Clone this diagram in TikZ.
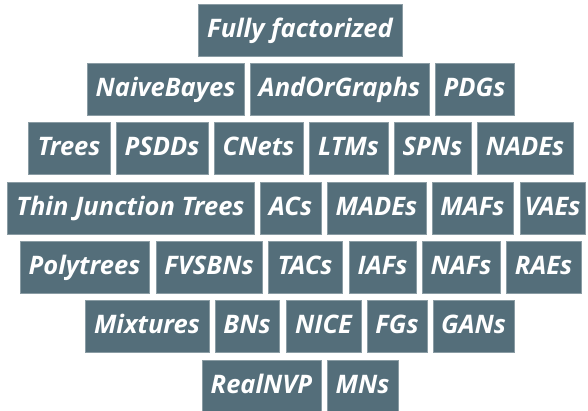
\documentclass[tikz,border=0pt]{standalone}
\usepackage{fontspec}
\setmainfont{Open Sans}
\definecolor{boxfill}{HTML}{546E7A}
\definecolor{boxedge}{HTML}{8A9CA4}
\tikzset{
  box/.style={fill=boxfill, draw=boxedge, line width=0.4pt, inner sep=0pt,
    text height=19pt, text depth=5pt,
    text=white, font=\fontsize{25.5}{26}\selectfont\bfseries\itshape, anchor=center}
}
\newcommand\mybox[6]{%
  \node[box, minimum width={(#3-#2)*1pt}, minimum height={(#5-#4)*1pt}]
    (#1) at ({(#2+#3)/2},{(#4+#5)/2}) {#6};}
\begin{document}
\begin{tikzpicture}[x=1pt,y=-1pt]
\useasboundingbox (0,0) rectangle (588,410);
% row 1
\mybox{ff}{198}{402}{4}{56}{Fully factorized}
% row 2
\mybox{nb}{87}{244}{63}{115}{NaiveBayes}
\mybox{aog}{250}{429}{63}{115}{AndOrGraphs}
\mybox{pdg}{435}{514}{63}{115}{PDGs}
% row 3
\mybox{trees}{28}{110}{122}{174}{Trees}
\mybox{psdd}{116}{208}{122}{174}{PSDDs}
\mybox{cnet}{214}{303}{122}{174}{CNets}
\mybox{ltm}{309}{388}{122}{174}{LTMs}
\mybox{spn}{394}{471}{122}{174}{SPNs}
\mybox{nade}{477}{573}{122}{174}{NADEs}
% row 4
\mybox{tjt}{7}{254}{182}{234}{Thin Junction Trees}
\mybox{ac}{260}{321}{182}{234}{ACs}
\mybox{made}{327}{426}{182}{234}{MADEs}
\mybox{maf}{432}{513}{182}{234}{MAFs}
\mybox{vae}{520}{585}{182}{234}{VAEs}
% row 5
\mybox{poly}{20}{149}{241}{293}{Polytrees}
\mybox{fvsbn}{156}{262}{241}{293}{FVSBNs}
\mybox{tac}{268}{342}{241}{293}{TACs}
\mybox{iaf}{349}{416}{241}{293}{IAFs}
\mybox{naf}{422}{500}{241}{293}{NAFs}
\mybox{rae}{506}{581}{241}{293}{RAEs}
% row 6
\mybox{mix}{85}{209}{300}{352}{Mixtures}
\mybox{bn}{215}{279}{300}{352}{BNs}
\mybox{nice}{286}{361}{300}{352}{NICE}
\mybox{fg}{367}{427}{300}{352}{FGs}
\mybox{gan}{433}{514}{300}{352}{GANs}
% row 7
\mybox{rnvp}{202}{321}{360}{412}{RealNVP}
\mybox{mn}{327}{398}{360}{412}{MNs}
\end{tikzpicture}
\end{document}
